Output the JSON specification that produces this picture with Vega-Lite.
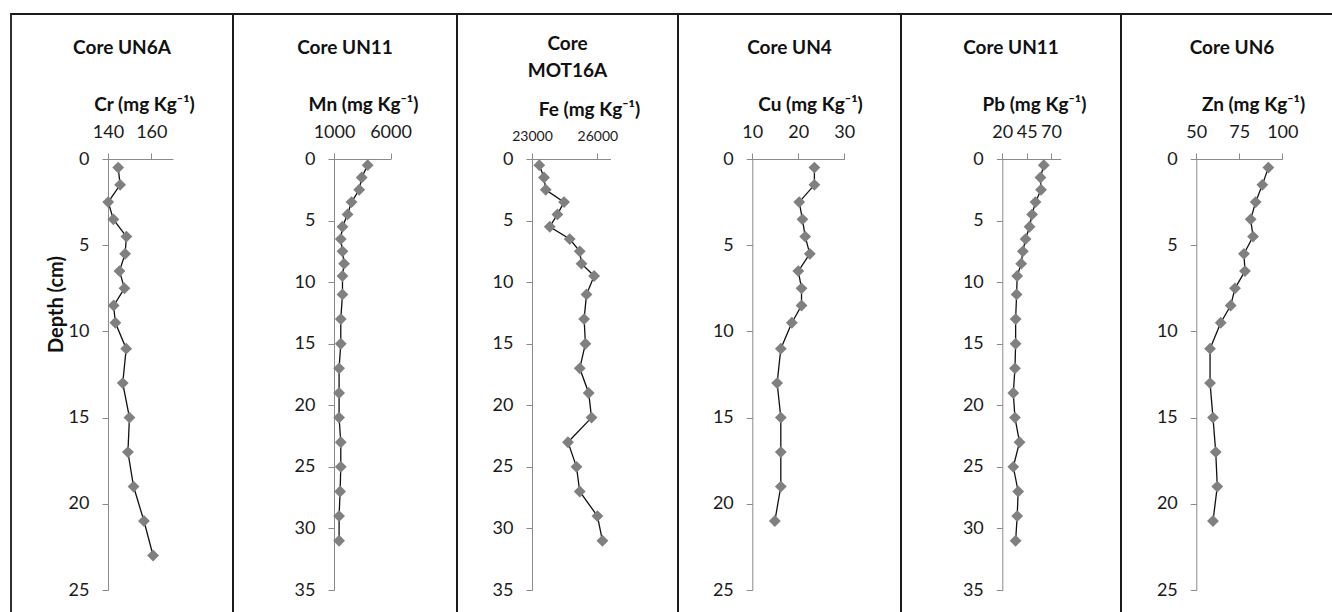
{
  "$schema": "https://vega.github.io/schema/vega-lite/v6.json",
  "padding": {"left": 10, "top": 13, "right": 0, "bottom": 0},
  "spacing": 0,
  "bounds": "flush",
  "datasets": {
    "cores": [
      {"element": "Cr", "depth": 0.5, "value": 144.7},
      {"element": "Cr", "depth": 1.5, "value": 145.6},
      {"element": "Cr", "depth": 2.5, "value": 140.1},
      {"element": "Cr", "depth": 3.5, "value": 142.5},
      {"element": "Cr", "depth": 4.5, "value": 148.5},
      {"element": "Cr", "depth": 5.5, "value": 147.9},
      {"element": "Cr", "depth": 6.5, "value": 145.3},
      {"element": "Cr", "depth": 7.5, "value": 147.6},
      {"element": "Cr", "depth": 8.5, "value": 142.6},
      {"element": "Cr", "depth": 9.5, "value": 143.4},
      {"element": "Cr", "depth": 11, "value": 148.4},
      {"element": "Cr", "depth": 13, "value": 146.8},
      {"element": "Cr", "depth": 15, "value": 149.9},
      {"element": "Cr", "depth": 17, "value": 149.2},
      {"element": "Cr", "depth": 19, "value": 151.8},
      {"element": "Cr", "depth": 21, "value": 156.6},
      {"element": "Cr", "depth": 23, "value": 160.8},

      {"element": "Mn", "depth": 0.5, "value": 3980},
      {"element": "Mn", "depth": 1.5, "value": 3450},
      {"element": "Mn", "depth": 2.5, "value": 3230},
      {"element": "Mn", "depth": 3.5, "value": 2550},
      {"element": "Mn", "depth": 4.5, "value": 2200},
      {"element": "Mn", "depth": 5.5, "value": 1750},
      {"element": "Mn", "depth": 6.5, "value": 1600},
      {"element": "Mn", "depth": 7.5, "value": 1750},
      {"element": "Mn", "depth": 8.5, "value": 1890},
      {"element": "Mn", "depth": 9.5, "value": 1750},
      {"element": "Mn", "depth": 11, "value": 1750},
      {"element": "Mn", "depth": 13, "value": 1600},
      {"element": "Mn", "depth": 15, "value": 1600},
      {"element": "Mn", "depth": 17, "value": 1450},
      {"element": "Mn", "depth": 19, "value": 1450},
      {"element": "Mn", "depth": 21, "value": 1450},
      {"element": "Mn", "depth": 23, "value": 1600},
      {"element": "Mn", "depth": 25, "value": 1600},
      {"element": "Mn", "depth": 27, "value": 1540},
      {"element": "Mn", "depth": 29, "value": 1450},
      {"element": "Mn", "depth": 31, "value": 1450},

      {"element": "Fe", "depth": 0.5, "value": 23335},
      {"element": "Fe", "depth": 1.5, "value": 23550},
      {"element": "Fe", "depth": 2.5, "value": 23630},
      {"element": "Fe", "depth": 3.5, "value": 24470},
      {"element": "Fe", "depth": 4.5, "value": 24165},
      {"element": "Fe", "depth": 5.5, "value": 23815},
      {"element": "Fe", "depth": 6.5, "value": 24730},
      {"element": "Fe", "depth": 7.5, "value": 25190},
      {"element": "Fe", "depth": 8.5, "value": 25270},
      {"element": "Fe", "depth": 9.5, "value": 25850},
      {"element": "Fe", "depth": 11, "value": 25500},
      {"element": "Fe", "depth": 13, "value": 25390},
      {"element": "Fe", "depth": 15, "value": 25450},
      {"element": "Fe", "depth": 17, "value": 25190},
      {"element": "Fe", "depth": 19, "value": 25600},
      {"element": "Fe", "depth": 21, "value": 25730},
      {"element": "Fe", "depth": 23, "value": 24650},
      {"element": "Fe", "depth": 25, "value": 25040},
      {"element": "Fe", "depth": 27, "value": 25190},
      {"element": "Fe", "depth": 29, "value": 26000},
      {"element": "Fe", "depth": 31, "value": 26230},

      {"element": "Cu", "depth": 0.5, "value": 23.5},
      {"element": "Cu", "depth": 1.5, "value": 23.5},
      {"element": "Cu", "depth": 2.5, "value": 20.2},
      {"element": "Cu", "depth": 3.5, "value": 20.9},
      {"element": "Cu", "depth": 4.5, "value": 21.5},
      {"element": "Cu", "depth": 5.5, "value": 22.5},
      {"element": "Cu", "depth": 6.5, "value": 20.0},
      {"element": "Cu", "depth": 7.5, "value": 20.7},
      {"element": "Cu", "depth": 8.5, "value": 20.7},
      {"element": "Cu", "depth": 9.5, "value": 18.6},
      {"element": "Cu", "depth": 11, "value": 16.2},
      {"element": "Cu", "depth": 13, "value": 15.4},
      {"element": "Cu", "depth": 15, "value": 16.2},
      {"element": "Cu", "depth": 17, "value": 16.2},
      {"element": "Cu", "depth": 19, "value": 16.2},
      {"element": "Cu", "depth": 21, "value": 14.9},

      {"element": "Pb", "depth": 0.5, "value": 62.6},
      {"element": "Pb", "depth": 1.5, "value": 59.2},
      {"element": "Pb", "depth": 2.5, "value": 59.8},
      {"element": "Pb", "depth": 3.5, "value": 54.1},
      {"element": "Pb", "depth": 4.5, "value": 50.6},
      {"element": "Pb", "depth": 5.5, "value": 48.0},
      {"element": "Pb", "depth": 6.5, "value": 43.9},
      {"element": "Pb", "depth": 7.5, "value": 41.1},
      {"element": "Pb", "depth": 8.5, "value": 39.4},
      {"element": "Pb", "depth": 9.5, "value": 35.3},
      {"element": "Pb", "depth": 11, "value": 34.7},
      {"element": "Pb", "depth": 13, "value": 33.7},
      {"element": "Pb", "depth": 15, "value": 33.7},
      {"element": "Pb", "depth": 17, "value": 33.0},
      {"element": "Pb", "depth": 19, "value": 31.3},
      {"element": "Pb", "depth": 21, "value": 33.0},
      {"element": "Pb", "depth": 23, "value": 37.7},
      {"element": "Pb", "depth": 25, "value": 31.3},
      {"element": "Pb", "depth": 27, "value": 36.3},
      {"element": "Pb", "depth": 29, "value": 35.3},
      {"element": "Pb", "depth": 31, "value": 33.7},

      {"element": "Zn", "depth": 0.5, "value": 91.9},
      {"element": "Zn", "depth": 1.5, "value": 88.4},
      {"element": "Zn", "depth": 2.5, "value": 84.5},
      {"element": "Zn", "depth": 3.5, "value": 81.6},
      {"element": "Zn", "depth": 4.5, "value": 83.0},
      {"element": "Zn", "depth": 5.5, "value": 77.7},
      {"element": "Zn", "depth": 6.5, "value": 78.3},
      {"element": "Zn", "depth": 7.5, "value": 72.5},
      {"element": "Zn", "depth": 8.5, "value": 70.0},
      {"element": "Zn", "depth": 9.5, "value": 64.2},
      {"element": "Zn", "depth": 11, "value": 58.0},
      {"element": "Zn", "depth": 13, "value": 58.0},
      {"element": "Zn", "depth": 15, "value": 59.7},
      {"element": "Zn", "depth": 17, "value": 61.3},
      {"element": "Zn", "depth": 19, "value": 62.2},
      {"element": "Zn", "depth": 21, "value": 59.7}
    ]
  },
  "data": {"name": "cores"},
  "hconcat": [
    {
      "width": 222, "height": 620,
      "title": {"text": "Core UN6A", "offset": -44},
      "transform": [{"filter": "datum.element == 'Cr'"}],
      "encoding": {
        "x": {"field": "value", "type": "quantitative",
          "scale": {"domain": [140, 170], "range": [97, 162], "nice": false, "zero": false},
          "axis": {"orient": "top", "offset": -145, "values": [140, 160], "format": "d", "title": "Cr (mg Kg⁻¹)", "titleX": 133, "titleY": -55}},
        "y": {"field": "depth", "type": "quantitative",
          "scale": {"domain": [0, 25], "range": [145, 576], "nice": false, "zero": false},
          "axis": {"offset": -97, "values": [0, 5, 10, 15, 20, 25], "format": "d", "title": "Depth (cm)", "titleFontSize": 20, "titleX": -52, "titleY": 290}}
      },
      "layer": [
        {"mark": {"type": "line", "color": "#111111", "strokeWidth": 1.3}, "encoding": {"order": {"field": "depth"}}},
        {"mark": {"type": "point", "shape": "diamond", "filled": true, "size": 140, "color": "#808080", "opacity": 1}}
      ]
    },
    {
      "width": 224, "height": 620,
      "title": {"text": "Core UN11", "offset": -44},
      "transform": [{"filter": "datum.element == 'Mn'"}],
      "encoding": {
        "x": {"field": "value", "type": "quantitative",
          "scale": {"domain": [1000, 6000], "range": [101, 157.5], "nice": false, "zero": false},
          "axis": {"orient": "top", "offset": -145, "values": [1000, 6000], "format": "d", "title": "Mn (mg Kg⁻¹)", "titleX": 130, "titleY": -55}},
        "y": {"field": "depth", "type": "quantitative",
          "scale": {"domain": [0, 35], "range": [145, 576], "nice": false, "zero": false},
          "axis": {"offset": -101, "values": [0, 5, 10, 15, 20, 25, 30, 35], "format": "d", "title": null}}
      },
      "layer": [
        {"mark": {"type": "line", "color": "#111111", "strokeWidth": 1.3}, "encoding": {"order": {"field": "depth"}}},
        {"mark": {"type": "point", "shape": "diamond", "filled": true, "size": 140, "color": "#808080", "opacity": 1}}
      ]
    },
    {
      "width": 221, "height": 620,
      "title": {"text": ["Core", "MOT16A"], "offset": -66.5, "lineHeight": 27},
      "transform": [{"filter": "datum.element == 'Fe'"}],
      "encoding": {
        "x": {"field": "value", "type": "quantitative",
          "scale": {"domain": [23000, 26600], "range": [75, 153.5], "nice": false, "zero": false},
          "axis": {"orient": "top", "offset": -145, "values": [23000, 26000], "format": "d", "labelFontSize": 14, "labelPadding": 17, "title": "Fe (mg Kg⁻¹)", "titleX": 132, "titleY": -50}},
        "y": {"field": "depth", "type": "quantitative",
          "scale": {"domain": [0, 35], "range": [145, 576], "nice": false, "zero": false},
          "axis": {"offset": -75, "values": [0, 5, 10, 15, 20, 25, 30, 35], "format": "d", "title": null}}
      },
      "layer": [
        {"mark": {"type": "line", "color": "#111111", "strokeWidth": 1.3}, "encoding": {"order": {"field": "depth"}}},
        {"mark": {"type": "point", "shape": "diamond", "filled": true, "size": 140, "color": "#808080", "opacity": 1}}
      ]
    },
    {
      "width": 223, "height": 620,
      "title": {"text": "Core UN4", "offset": -44},
      "transform": [{"filter": "datum.element == 'Cu'"}],
      "encoding": {
        "x": {"field": "value", "type": "quantitative",
          "scale": {"domain": [10, 30], "range": [74.3, 166.3], "nice": false, "zero": false},
          "axis": {"orient": "top", "offset": -145, "values": [10, 20, 30], "format": "d", "title": "Cu (mg Kg⁻¹)", "titleX": 132, "titleY": -55}},
        "y": {"field": "depth", "type": "quantitative",
          "scale": {"domain": [0, 25], "range": [145, 576], "nice": false, "zero": false},
          "axis": {"offset": -74.3, "values": [0, 5, 10, 15, 20, 25], "format": "d", "title": null}}
      },
      "layer": [
        {"mark": {"type": "line", "color": "#111111", "strokeWidth": 1.3}, "encoding": {"order": {"field": "depth"}}},
        {"mark": {"type": "point", "shape": "diamond", "filled": true, "size": 140, "color": "#808080", "opacity": 1}}
      ]
    },
    {
      "width": 220, "height": 620,
      "title": {"text": "Core UN11", "offset": -44},
      "transform": [{"filter": "datum.element == 'Pb'"}],
      "encoding": {
        "x": {"field": "value", "type": "quantitative",
          "scale": {"domain": [20, 80], "range": [101.3, 159.7], "nice": false, "zero": false},
          "axis": {"orient": "top", "offset": -145, "values": [20, 45, 70], "format": "d", "title": "Pb (mg Kg⁻¹)", "titleX": 133, "titleY": -55}},
        "y": {"field": "depth", "type": "quantitative",
          "scale": {"domain": [0, 35], "range": [145, 576], "nice": false, "zero": false},
          "axis": {"offset": -101.3, "values": [0, 5, 10, 15, 20, 25, 30, 35], "format": "d", "title": null}}
      },
      "layer": [
        {"mark": {"type": "line", "color": "#111111", "strokeWidth": 1.3}, "encoding": {"order": {"field": "depth"}}},
        {"mark": {"type": "point", "shape": "diamond", "filled": true, "size": 140, "color": "#808080", "opacity": 1}}
      ]
    },
    {
      "width": 222, "height": 620,
      "title": {"text": "Core UN6", "offset": -44},
      "transform": [{"filter": "datum.element == 'Zn'"}],
      "encoding": {
        "x": {"field": "value", "type": "quantitative",
          "scale": {"domain": [50, 100], "range": [75.3, 161.3], "nice": false, "zero": false},
          "axis": {"orient": "top", "offset": -145, "values": [50, 75, 100], "format": "d", "title": "Zn (mg Kg⁻¹)", "titleX": 132, "titleY": -55}},
        "y": {"field": "depth", "type": "quantitative",
          "scale": {"domain": [0, 25], "range": [145, 576], "nice": false, "zero": false},
          "axis": {"offset": -75.3, "values": [0, 5, 10, 15, 20, 25], "format": "d", "title": null}}
      },
      "layer": [
        {"mark": {"type": "line", "color": "#111111", "strokeWidth": 1.3}, "encoding": {"order": {"field": "depth"}}},
        {"mark": {"type": "point", "shape": "diamond", "filled": true, "size": 140, "color": "#808080", "opacity": 1}}
      ]
    }
  ],
  "config": {
    "view": {"stroke": "#1a1a1a", "strokeWidth": 1.8},
    "font": "Lato",
    "axis": {
      "grid": false,
      "domainColor": "#8a8a8a",
      "tickColor": "#8a8a8a",
      "tickSize": 6,
      "labelFont": "Lato",
      "labelFontSize": 18,
      "labelColor": "#1a1a1a",
      "titleFont": "Lato",
      "titleFontSize": 19,
      "titleFontWeight": "bold",
      "titleColor": "#111111",
      "labelFlush": false,
      "labelOverlap": false,
      "titleBaseline": "middle"
    },
    "axisX": {"labelBaseline": "middle", "labelPadding": 21},
    "axisY": {"labelBaseline": "middle", "labelPadding": 13},
    "title": {"font": "Lato", "fontSize": 19, "fontWeight": "bold", "color": "#111111", "anchor": "middle", "frame": "group", "baseline": "middle"}
  }
}
